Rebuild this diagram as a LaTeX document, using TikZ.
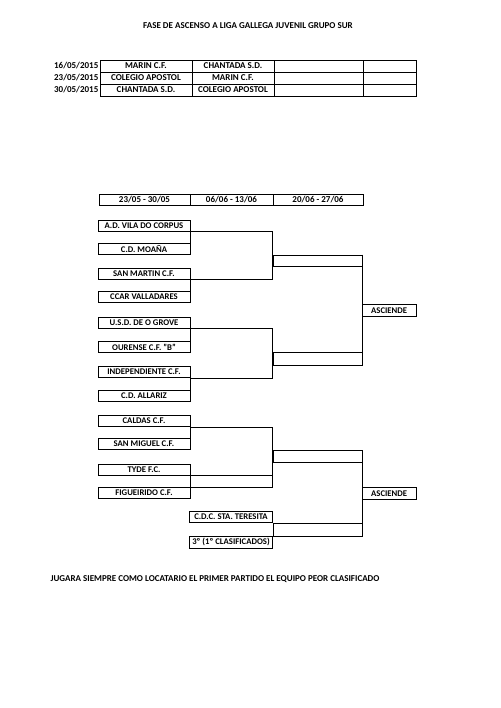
\documentclass[tikz,border=0pt]{standalone}
\usepackage{fontspec}
\setmainfont{Carlito}
\begin{document}
\begin{tikzpicture}[x=1pt,y=-1pt,
  lw/.style={line width=0.9pt},
  txt/.style={font=\bfseries\fontsize{9}{10}\selectfont},
  ttxt/.style={font=\bfseries\fontsize{8.7}{10}\selectfont},
  cell/.style={draw,lw,inner sep=0pt,minimum height=12pt,txt},
  team/.style={draw,lw,inner sep=0pt,minimum width=92pt,minimum height=11pt,ttxt},
  wcell/.style={draw,lw,inner sep=0pt,minimum width=89.3pt},
  asc/.style={draw,lw,inner sep=0pt,minimum width=54pt,minimum height=11.5pt,ttxt},
  conn/.style={lw}]
\useasboundingbox (0,0) rectangle (500,708);
\fill[white] (0,0) rectangle (500,708);

% title
\node[txt] (title) at (248,26) {FASE DE ASCENSO A LIGA GALLEGA JUVENIL GRUPO SUR};

% top table
\node[cell,minimum width=92pt] (a1) at (146,66) {MARIN C.F.};
\node[cell,minimum width=82pt] (b1) at (233,66) {CHANTADA S.D.};
\node[cell,minimum width=89pt] (c1) at (318.5,66) {};
\node[cell,minimum width=53.7pt] (e1) at (389.85,66) {};
\node[cell,minimum width=92pt] (a2) at (146,78) {COLEGIO APOSTOL};
\node[cell,minimum width=82pt] (b2) at (233,78) {MARIN C.F.};
\node[cell,minimum width=89pt] (c2) at (318.5,78) {};
\node[cell,minimum width=53.7pt] (e2) at (389.85,78) {};
\node[cell,minimum width=92pt] (a3) at (146,90) {CHANTADA S.D.};
\node[cell,minimum width=82pt] (b3) at (233,90) {COLEGIO APOSTOL};
\node[cell,minimum width=89pt] (c3) at (318.5,90) {};
\node[cell,minimum width=53.7pt] (e3) at (389.85,90) {};
\node[txt,anchor=east,inner sep=1pt] (d1) at (a1.west) {16/05/2015};
\node[txt,anchor=east,inner sep=1pt] (d2) at (a2.west) {23/05/2015};
\node[txt,anchor=east,inner sep=1pt] (d3) at (a3.west) {30/05/2015};

% header of rounds
\node[cell,minimum width=91pt,minimum height=11pt] (h1) at (144.5,199.5) {23/05 - 30/05};
\node[cell,minimum width=83pt,minimum height=11pt] (h2) at (231.5,199.5) {06/06 - 13/06};
\node[cell,minimum width=90pt,minimum height=11pt] (h3) at (318,199.5) {20/06 - 27/06};

% teams
\node[team] (vila) at (144,225.5) {A.D. VILA DO CORPUS};
\node[team] (moana) at (144,248.5) {C.D. MOAÑA};
\node[team] (sanmartin) at (144,273.5) {SAN MARTIN C.F.};
\node[team] (ccar) at (144,296.5) {CCAR VALLADARES};
\node[team] (usd) at (144,322.5) {U.S.D. DE O GROVE};
\node[team] (ourense) at (144,347) {OURENSE C.F. "B"};
\node[team] (indep) at (144,372) {INDEPENDIENTE C.F.};
\node[team] (allariz) at (144,396) {C.D. ALLARIZ};
\node[team] (caldas) at (144,421) {CALDAS C.F.};
\node[team] (sanmiguel) at (144,444) {SAN MIGUEL C.F.};
\node[team] (tyde) at (144,469.5) {TYDE F.C.};
\node[team] (figueirido) at (144,493) {FIGUEIRIDO C.F.};
\node[team,minimum width=83.5pt,minimum height=11.5pt] (teresita) at (231,517) {C.D.C. STA. TERESITA};
\node[team,minimum width=83.5pt,minimum height=11.5pt] (tercero) at (231,542.25) {3º (1º CLASIFICADOS)};

% second-round cells
\node[wcell,minimum height=11.7pt] (w1) at (317.65,260.85) {};
\node[wcell,minimum height=12.3pt] (w2) at (317.65,358.85) {};
\node[wcell,minimum height=12pt] (w3) at (317.65,456.7) {};
\node[wcell,minimum height=13.5pt] (w4) at (317.65,529.75) {};

% ascends
\node[asc] (asc1) at (389.15,310.5) {ASCIENDE};
\node[asc] (asc2) at (389.15,493.5) {ASCIENDE};

% first-round connectors
\draw[conn] (vila.south east) -- (moana.north east);
\draw[conn] (sanmartin.south east) -- (ccar.north east);
\draw[conn] (vila.south east) -- (vila.south east -| w1.west) -- (sanmartin.south east -| w1.west) -- (sanmartin.south east);

\draw[conn] (usd.south east) -- (ourense.north east);
\draw[conn] (indep.south east) -- (allariz.north east);
\draw[conn] (usd.south east) -- (usd.south east -| w2.west) -- (indep.south east -| w2.west) -- (indep.south east);

\draw[conn] (caldas.south east) -- (sanmiguel.north east);
\draw[conn] (tyde.south east) -- (figueirido.north east);
\draw[conn] (caldas.south east) -- (caldas.south east -| w3.west) -- (figueirido.north east -| w3.west) -- (figueirido.north east);
\draw[conn] (tyde.south east) -- (tyde.south east -| w3.west);

\draw[conn] (teresita.south east) -- (tercero.north east);

% final connectors
\draw[conn] (w1.north east) -- (w2.south east);
\draw[conn] (w3.north east) -- (w4.south east);

% footer
\node[txt,anchor=west] (foot) at (47,579) {JUGARA SIEMPRE COMO LOCATARIO EL PRIMER PARTIDO EL EQUIPO PEOR CLASIFICADO};
\end{tikzpicture}
\end{document}
